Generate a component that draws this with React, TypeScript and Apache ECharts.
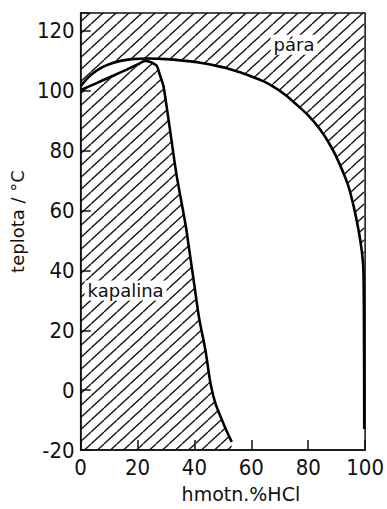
import React, { useEffect, useRef } from "react";
import * as echarts from "echarts";

// vapour (dew) curve – upper boundary of "pára"
const vaporX = [0, 2, 4, 7, 10, 14, 18, 24, 30, 36, 42, 47, 52, 56, 60, 64, 68, 72, 76, 80, 84, 88, 91, 94, 96, 97.7, 98.8, 99.4, 99.6, 99.7];
const vaporT = [101.5, 103.8, 105.6, 107.6, 108.9, 110, 110.6, 110.8, 110.6, 110.1, 109.4, 108.5, 107.4, 106.2, 104.8, 103.3, 101.2, 98.6, 95.3, 91.8, 87.3, 81.4, 75.6, 68.5, 61.3, 53.4, 46.7, 40, 20, -13];

// liquid (bubble) curve – boundary of "kapalina"
const liquidX = [0, 4, 8, 12, 16, 20, 22.7, 24.5, 25.8, 26.8, 28, 29.1, 30.2, 31.9, 33.6, 35.3, 37, 38.2, 39.9, 41.6, 43.9, 45.6, 47.4, 50.2, 53.1];
const liquidT = [100.3, 101.9, 103.6, 105.3, 107, 108.8, 110, 109.6, 109, 108.3, 104.8, 101.6, 94.9, 83.7, 72.5, 63.5, 54.6, 46.7, 35.5, 24.3, 13.1, 2.5, -4.5, -11.2, -17.3];

const xTicks = [0, 20, 40, 60, 80, 100];
const yTicks = [-20, 0, 20, 40, 60, 80, 100, 120];

const regionLabels = ["pára", "kapalina"];
const regionLabelX = [75, 15.8];
const regionLabelT = [115.4, 33.3];

function makeHatch() {
  const W = 13, H = 12;
  const c = document.createElement("canvas");
  c.width = W;
  c.height = H;
  const ctx = c.getContext("2d")!;
  ctx.strokeStyle = "#111";
  ctx.lineWidth = 1.3;
  for (let k = -1; k <= 1; k++) {
    ctx.beginPath();
    ctx.moveTo(k * W, H);
    ctx.lineTo(k * W + W, 0);
    ctx.stroke();
  }
  return { image: c, repeat: "repeat", imageWidth: W, imageHeight: H } as any;
}

export default function App() {
  const ref = useRef<HTMLDivElement>(null);
  useEffect(() => {
    const chart = echarts.init(ref.current!, null, { renderer: "svg" });
    const hatch = makeHatch();
    const numFont = "'Liberation Sans Narrow', 'DejaVu Sans Condensed', sans-serif";
    const textFont = "'DejaVu Sans', sans-serif";
    const labelStyle = {
      show: true,
      formatter: (p: any) => p.name,
      fontFamily: textFont,
      fontSize: 18,
      color: "#111",
      backgroundColor: "#fff",
      padding: [1, 3, 1, 3],
    };
    chart.setOption({
      animation: false,
      backgroundColor: "#fff",
      grid: {
        left: 77,
        right: 19,
        top: 13,
        bottom: 59,
        show: true,
        borderColor: "#111",
        borderWidth: 1.5,
        backgroundColor: "transparent",
      },
      xAxis: {
        type: "value",
        min: xTicks[0],
        max: xTicks[xTicks.length - 1],
        interval: 20,
        name: "hmotn.%HCl",
        nameLocation: "middle",
        nameGap: 34,
        nameTextStyle: { fontFamily: textFont, fontSize: 19, color: "#111", padding: [0, 0, 0, 36] },
        axisLine: { show: true, onZero: false, lineStyle: { color: "#111", width: 1.5 } },
        axisTick: { show: true, inside: true, length: 10, lineStyle: { color: "#111", width: 1.5 } },
        axisLabel: { fontFamily: numFont, fontSize: 22, color: "#111", margin: 6 },
        splitLine: { show: false },
      },
      yAxis: {
        type: "value",
        min: yTicks[0],
        max: 126,
        interval: 20,
        name: "teplota / °C",
        nameLocation: "middle",
        nameRotate: 90,
        nameGap: 47,
        nameTextStyle: { fontFamily: textFont, fontSize: 18, color: "#111", padding: [0, 0, 0, 20] },
        axisLine: { show: true, onZero: false, lineStyle: { color: "#111", width: 1.5 } },
        axisTick: { show: true, inside: true, length: 10, lineStyle: { color: "#111", width: 1.5 } },
        axisLabel: {
          fontFamily: numFont,
          fontSize: 22,
          color: "#111",
          margin: 6,
          formatter: (v: number) => (yTicks.includes(v) ? String(v) : ""),
        },
        splitLine: { show: false },
      },
      series: [
        {
          type: "line",
          name: "pára",
          data: vaporX.map((x, i) => [x, vaporT[i]]),
          symbol: "none",
          smooth: 0.25,
          lineStyle: { color: "#000", width: 2.6 },
          areaStyle: { origin: "end", color: hatch, opacity: 1 },
          markPoint: {
            symbol: "rect",
            symbolSize: 0,
            label: labelStyle,
            data: [{ name: regionLabels[0], coord: [regionLabelX[0], regionLabelT[0]] }],
          },
          z: 2,
        },
        {
          type: "line",
          name: "kapalina",
          data: liquidX.map((x, i) => [x, liquidT[i]]),
          symbol: "none",
          smooth: 0.25,
          lineStyle: { color: "#000", width: 2.6 },
          areaStyle: { origin: "start", color: hatch, opacity: 1 },
          markPoint: {
            symbol: "rect",
            symbolSize: 0,
            label: labelStyle,
            data: [{ name: regionLabels[1], coord: [regionLabelX[1], regionLabelT[1]] }],
          },
          z: 2,
        },
      ],
    });
    return () => chart.dispose();
  }, []);
  return <div ref={ref} style={{ width: 387, height: 509, position: "absolute", left: 0, top: 0 }} />;
}
